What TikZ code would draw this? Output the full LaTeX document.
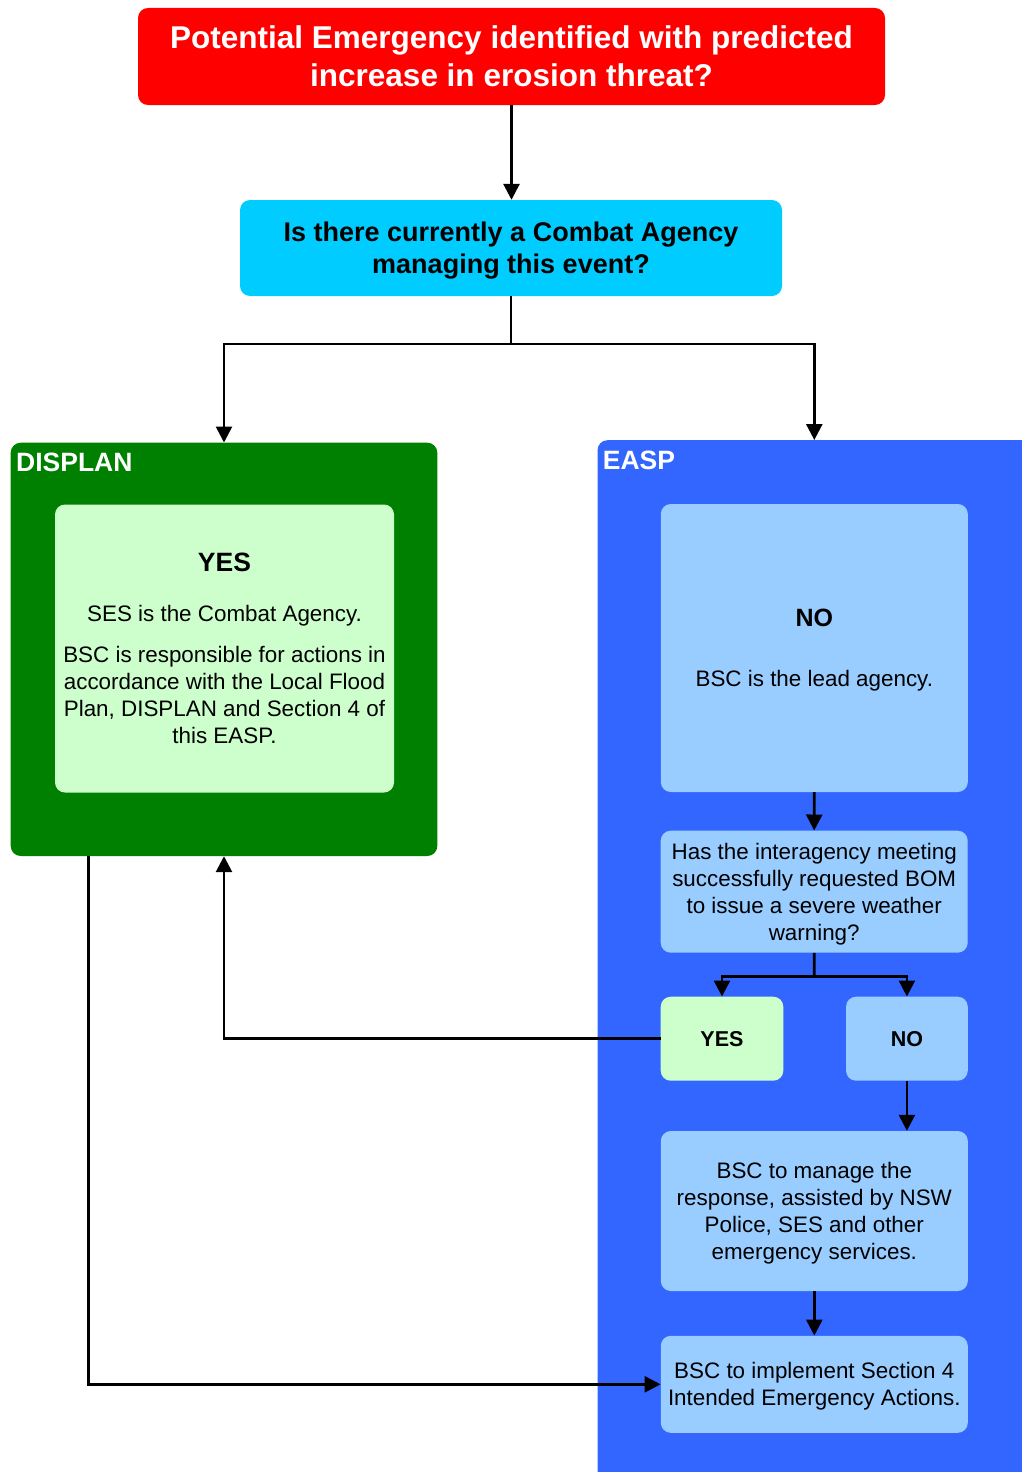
\documentclass[tikz,border=0pt]{standalone}
\usepackage{fontspec}
\setmainfont{Liberation Sans}
\usetikzlibrary{arrows.meta}
\definecolor{cRed}{HTML}{FF0000}
\definecolor{cCyan}{HTML}{00CCFF}
\definecolor{cGreen}{HTML}{008000}
\definecolor{cLightGreen}{HTML}{CCFFCC}
\definecolor{cBlue}{HTML}{3366FF}
\definecolor{cLightBlue}{HTML}{99CCFF}
\newcommand{\fsz}[2]{\fontsize{#1}{#2}\selectfont}
\tikzset{
  box/.style={rounded corners=10pt, inner sep=0pt, align=center, text=black},
  body/.style={font=\fsz{22.4}{27}, text depth=0pt},
  conn/.style={line width=2.7pt, -{Triangle[length=16pt,width=16pt]}},
  plain/.style={line width=2.7pt},
  paneltitle/.style={anchor=base west, text=white, font=\bfseries\fsz{26.5}{32}, inner sep=0pt},
}
\begin{document}
\begin{tikzpicture}[x=1pt,y=-1pt]
\useasboundingbox (0,0) rectangle (1022,1472);
\clip (0,0) rectangle (1022,1472);

% top question boxes
\node[box, fill=cRed, minimum width=747pt, minimum height=97pt, text=white,
      font=\bfseries\fsz{31.5}{38}] (q1) at (511.5,56.5)
      {Potential Emergency identified with predicted\\increase in erosion threat?};
\node[box, fill=cCyan, minimum width=542pt, minimum height=96pt, text depth=0pt,
      font=\bfseries\fsz{27}{32.3}] (q2) at (511,248)
      {Is there currently a Combat Agency\\managing this event?};

% DISPLAN panel
\node[box, fill=cGreen, minimum width=426.6pt, minimum height=413.3pt] (displan) at (224,649.35) {};
\node[paneltitle] (displanlbl) at (16,471.7) {DISPLAN};
\node[box, fill=cLightGreen, minimum width=339pt, minimum height=288pt, body] (yes1) at (224.5,648.5)
      {{\bfseries\fsz{26.5}{27}YES}\\[23pt]SES is the Combat Agency.\\[13.6pt]BSC is responsible for actions in\\accordance with the Local Flood\\Plan, DISPLAN and Section 4 of\\this EASP.};

% EASP panel
\node[box, fill=cBlue, minimum width=460pt, minimum height=1060pt, anchor=north west] (easp) at (597.3,440) {};
\node[paneltitle] (easplbl) at (602.7,469.3) {EASP};
\node[box, fill=cLightBlue, minimum width=307pt, minimum height=288pt, body] (no1) at (814.3,648)
      {{\bfseries\fsz{25}{27}NO}\\[33.4pt]BSC is the lead agency.};
\node[box, fill=cLightBlue, minimum width=307pt, minimum height=122pt, body] (q3) at (814.2,891.7)
      {Has the interagency meeting\\successfully requested BOM\\to issue a severe weather\\warning?};
\node[box, fill=cLightGreen, minimum width=122.6pt, minimum height=84pt,
      font=\bfseries\fsz{21.5}{26}] (yes2) at (722,1038.7) {YES};
\node[box, fill=cLightBlue, minimum width=121.7pt, minimum height=84pt,
      font=\bfseries\fsz{21.5}{26}] (no2) at (906.9,1038.7) {NO};
\node[box, fill=cLightBlue, minimum width=307pt, minimum height=160pt, body] (manage) at (814.3,1211)
      {BSC to manage the\\response, assisted by NSW\\Police, SES and other\\emergency services.};
\node[box, fill=cLightBlue, minimum width=307pt, minimum height=97pt, body] (implement) at (814.3,1384.3)
      {BSC to implement Section 4\\Intended Emergency Actions.};

% connectors
\draw[conn] (q1.south) -- (q1.south |- q2.north);
\coordinate (split) at (511,344);
\draw[plain] (q2.south) -- (split);
\draw[conn] (split) -| (displan.north);
\draw[conn] (split) -| (no1.north |- easp.north);
\draw[conn] (no1.south) -- (q3.north);
\coordinate (split2) at (814.3,976.7);
\draw[plain] (q3.south) -- (split2);
\draw[conn] (split2) -| (yes2.north);
\draw[conn] (split2) -| (no2.north);
\draw[conn] (no2.south) -- (no2.south |- manage.north);
\draw[conn] (manage.south) -- (implement.north);
\draw[conn] (yes2.west) -| (displan.south);
\coordinate (dl) at (88.3,856);
\draw[conn] (dl) |- (implement.west);
\end{tikzpicture}
\end{document}
